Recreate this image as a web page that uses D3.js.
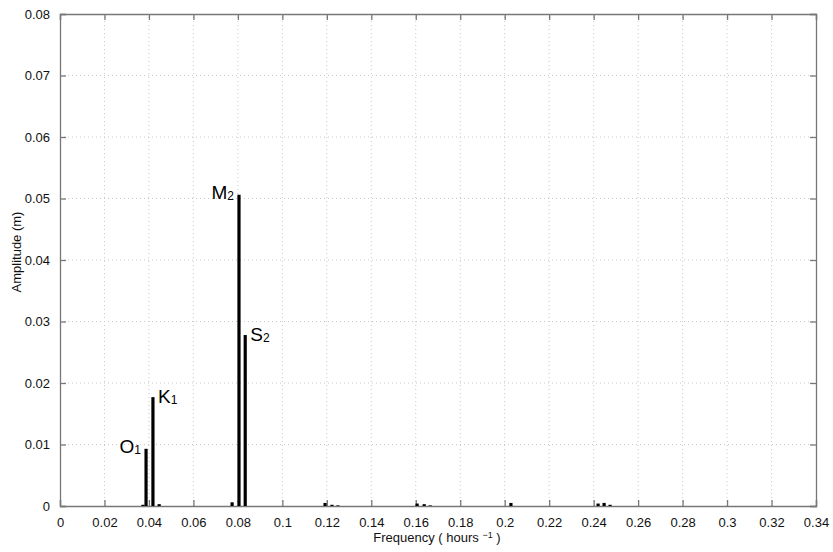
<!DOCTYPE html>
<html>
<head>
<meta charset="utf-8">
<script src="https://cdn.jsdelivr.net/npm/d3@7"></script>
<style>
  html, body { margin: 0; padding: 0; background: #fff; }
  svg { display: block; font-family: "Liberation Sans", Arial, Helvetica, sans-serif; }
</style>
</head>
<body>
<svg id="chart" width="833" height="552"></svg>
<script>
// Tidal amplitude spectrum: constituent frequencies (cycles/hour) and amplitudes (m)
const frequencies = [0.0373, 0.0387, 0.0418, 0.0446, 0.0774, 0.0805, 0.0833,
                     0.1192, 0.1223, 0.1250, 0.1606, 0.1638, 0.1665, 0.2028,
                     0.2420, 0.2447, 0.2474];
const amplitudes  = [0.0002, 0.0093, 0.0177, 0.0003, 0.0006, 0.0506, 0.0278,
                     0.0005, 0.0002, 0.0001, 0.0004, 0.0003, 0.0001, 0.0005,
                     0.0004, 0.0005, 0.0002];
// Named constituents: label, subscript, frequency, amplitude
const constituentNames = ["O", "K", "M", "S"];
const constituentSubs  = ["1", "1", "2", "2"];
const constituentFreqs = [0.0387, 0.0418, 0.0805, 0.0833];
const constituentAmps  = [0.0093, 0.0177, 0.0506, 0.0278];
const labelSide        = ["left", "right", "left", "right"];

const xTicks = d3.range(0, 0.3401, 0.02);
const yTicks = d3.range(0, 0.0801, 0.01);

(function draw() {
  const svg = d3.select("#chart");
  const margin = { left: 60, right: 17, top: 14, bottom: 46 };
  const W = 833, H = 552;
  const x = d3.scaleLinear().domain([0, 0.34]).range([margin.left, W - margin.right]);
  const y = d3.scaleLinear().domain([0, 0.08]).range([H - margin.bottom, margin.top]);

  const fmt = d => d === 0 ? "0" : d3.format("~g")(+d.toFixed(3));

  // dotted grid
  const grid = svg.append("g");
  grid.selectAll(".gx").data(xTicks.slice(1, -1)).join("line")
    .attr("x1", d => x(d)).attr("x2", d => x(d))
    .attr("y1", y(0)).attr("y2", y(0.08))
    .attr("stroke", "#c8c8c8").attr("stroke-width", 1).attr("stroke-dasharray", "1,3");
  grid.selectAll(".gy").data(yTicks.slice(1, -1)).join("line")
    .attr("y1", d => y(d)).attr("y2", d => y(d))
    .attr("x1", x(0)).attr("x2", x(0.34))
    .attr("stroke", "#c8c8c8").attr("stroke-width", 1).attr("stroke-dasharray", "1,3");

  // axes with inward ticks on all four sides
  const axisColor = "#777";
  const axBottom = svg.append("g").attr("transform", `translate(0,${y(0)})`)
    .call(d3.axisBottom(x).tickValues(xTicks).tickSize(-6).tickPadding(12).tickFormat(fmt));
  const axTop = svg.append("g").attr("transform", `translate(0,${y(0.08)})`)
    .call(d3.axisTop(x).tickValues(xTicks).tickSize(-6).tickFormat(""));
  const axLeft = svg.append("g").attr("transform", `translate(${x(0)},0)`)
    .call(d3.axisLeft(y).tickValues(yTicks).tickSize(-6).tickPadding(10).tickFormat(fmt));
  const axRight = svg.append("g").attr("transform", `translate(${x(0.34)},0)`)
    .call(d3.axisRight(y).tickValues(yTicks).tickSize(-6).tickFormat(""));
  [axBottom, axTop, axLeft, axRight].forEach(g => {
    g.select(".domain").attr("stroke", axisColor).attr("stroke-width", 1.3);
    g.selectAll(".tick line").attr("stroke", axisColor).attr("stroke-width", 1.3);
    g.selectAll("text").attr("fill", "#111").attr("font-size", 13)
      .attr("font-family", "'Liberation Sans', Arial, sans-serif");
  });

  // spectral bars
  svg.append("g").selectAll("line").data(frequencies).join("line")
    .attr("x1", d => x(d)).attr("x2", d => x(d))
    .attr("y1", y(0)).attr("y2", (d, i) => y(amplitudes[i]))
    .attr("stroke", "#000").attr("stroke-width", 3.2);

  // constituent labels
  const lab = svg.append("g").selectAll("text").data(constituentNames).join("text")
    .attr("x", (d, i) => x(constituentFreqs[i]) + (labelSide[i] === "left" ? -5 : 5))
    .attr("y", (d, i) => y(constituentAmps[i]) + (labelSide[i] === "left" ? 4 : 6))
    .attr("text-anchor", (d, i) => labelSide[i] === "left" ? "end" : "start")
    .attr("font-size", 19).attr("fill", "#000");
  lab.append("tspan").text(d => d);
  lab.append("tspan").text((d, i) => constituentSubs[i])
    .attr("font-size", 12).attr("dy", 1);

  // axis titles
  const xt = svg.append("text").attr("x", 437).attr("y", 542)
    .attr("text-anchor", "middle").attr("font-size", 13).attr("fill", "#111");
  xt.append("tspan").text("Frequency ( hours ");
  xt.append("tspan").text("−1").attr("font-size", 9).attr("dy", -4);
  xt.append("tspan").text(" )").attr("dy", 4);

  svg.append("text").attr("transform", `translate(21,252) rotate(-90)`)
    .attr("text-anchor", "middle").attr("font-size", 13).attr("fill", "#111")
    .text("Amplitude (m)");
})();
</script>
</body>
</html>
